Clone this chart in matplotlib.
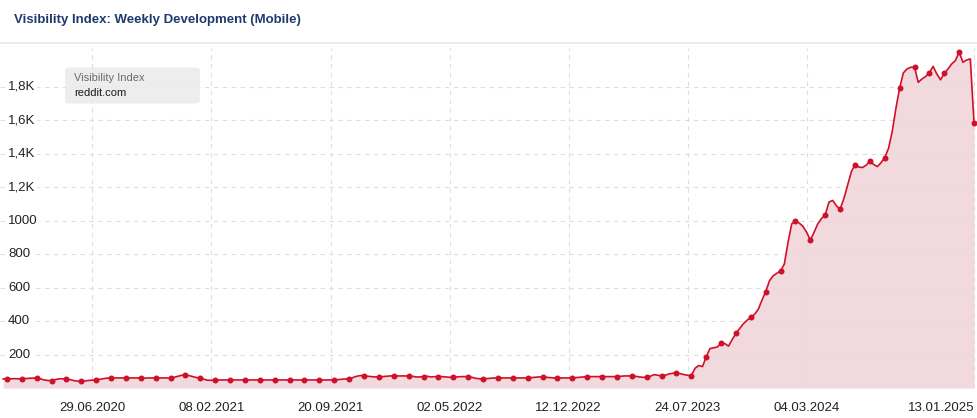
import numpy as np
import pandas as pd
import matplotlib
matplotlib.use("Agg")
import matplotlib.pyplot as plt
import matplotlib.dates as mdates
from matplotlib.patches import FancyBboxPatch

plt.rcParams['font.family'] = ['Liberation Sans', 'DejaVu Sans']

# weekly visibility index of reddit.com (mobile), first week 13.01.2020
first_week = "2020-01-13"
values = [
    54,
    54, 55, 56, 55,   54, 56, 58, 59,   60, 55, 48, 45,   44, 50, 55, 55,
    54, 50, 44, 41,   40, 42, 45, 47,   48, 52, 56, 59,   60, 60, 60, 60,
    60, 60, 60, 60,   60, 59, 60, 60,   60, 60, 60, 60,   60, 64, 70, 76,
    78, 74, 68, 62,   60, 52, 46, 46,   48, 48, 48, 48,   48, 48, 48, 48,
    48, 48, 48, 48,   48, 48, 48, 48,   48, 48, 48, 48,   48, 48, 48, 48,
    48, 48, 48, 48,   48, 48, 48, 48,   48, 50, 52, 54,   56, 62, 70, 74,
    74, 70, 68, 66,   66, 68, 70, 72,   72, 72, 72, 72,   72, 70, 66, 66,
    68, 70, 66, 68,   68, 68, 66, 64,   64, 66, 68, 68,   68, 64, 58, 55,
    54, 56, 58, 60,   60, 60, 60, 60,   60, 60, 60, 60,   60, 62, 64, 66,
    66, 64, 62, 60,   60, 60, 60, 60,   60, 62, 64, 66,   68, 68, 68, 68,
    68, 68, 68, 68,   68, 70, 72, 72,   72, 70, 66, 64,   64, 70, 80, 76,
    72, 76, 84, 88,   90, 86, 80, 76,   74, 118, 134, 128,
    186, 235, 240, 245,   268, 265, 250, 290,   326, 355, 384, 405,
    422, 440, 470, 525,   575, 640, 670, 685,   699, 740, 870, 980,
    996, 985, 965, 930,   883, 930, 980, 1012,   1034, 1110, 1120, 1088,
    1068, 1130, 1210, 1290,   1334, 1320, 1316, 1330,   1356, 1335, 1322, 1345,
    1376, 1430, 1530, 1670,   1791, 1881, 1905, 1915,   1917, 1825, 1845, 1860,
    1883, 1920, 1875, 1840,   1879, 1905, 1935, 1955,   2007, 1945, 1958, 1965,
    1581,
]
weeks = pd.date_range(first_week, periods=len(values), freq="7D")

date_ticks = ["29.06.2020", "08.02.2021", "20.09.2021", "02.05.2022",
              "12.12.2022", "24.07.2023", "04.03.2024", "13.01.2025"]
y_ticks = [200, 400, 600, 800, 1000, 1200, 1400, 1600, 1800]
y_labels = ["200", "400", "600", "800", "1000", "1,2K", "1,4K", "1,6K", "1,8K"]

red = "#d0102a"
W, H = 977, 418
fig = plt.figure(figsize=(W / 100, H / 100), dpi=100)
ax = fig.add_axes([0, 30 / H, 1, 340 / H])

ax.fill_between(weeks, values, 0, color="#f2d9dd", linewidth=0, zorder=1)
ax.plot(weeks, values, color=red, linewidth=1.2, zorder=3,
        marker="o", markersize=4.3, markevery=slice(1, None, 4),
        markeredgewidth=0)

tick_dates = pd.to_datetime(date_ticks, format="%d.%m.%Y")
ax.set_xlim(pd.Timestamp("2020-01-07"), pd.Timestamp("2025-01-18 14:00"))
ax.set_ylim(0, 2030)
ax.set_xticks(tick_dates)
ax.set_xticklabels(date_ticks, fontsize=9.5, color="#222222")
ax.tick_params(axis="x", length=0, pad=10)
ax.get_xticklabels()[-1].set_horizontalalignment("right")
ax.set_yticks(y_ticks)
ax.tick_params(axis="y", length=0, labelleft=False)

# сетка
ax.set_axisbelow("line")
ax.grid(True, color="#dedede", linewidth=0.8, linestyle=(0, (4, 4)))
for s in ax.spines.values():
    s.set_visible(False)

# подписи оси y внутри графика
for v, lab in zip(y_ticks, y_labels):
    ax.text(8 / W, v, lab, transform=ax.get_yaxis_transform(), ha="left",
            va="center", fontsize=9.5, color="#222222", zorder=4,
            bbox=dict(boxstyle="square,pad=0.15", fc="white", ec="none"))

# заголовок и разделитель
fig.text(14 / W, 1 - 20 / H, "Visibility Index: Weekly Development (Mobile)",
         fontsize=9.5, fontweight="bold", color="#1e3a6e", va="center")
fig.add_artist(plt.Line2D([0, 1], [1 - 42.5 / H] * 2, color="#e8e8e8",
                          linewidth=1.2, transform=fig.transFigure))

# легенда
box = FancyBboxPatch((65 / W, 1 - 103.5 / H), 135 / W, 36 / H,
                     boxstyle="round,pad=0,rounding_size=0.006",
                     transform=fig.transFigure, fc="#ececec", ec="none",
                     alpha=0.95, zorder=5)
fig.add_artist(box)
fig.text(74 / W, 1 - 78 / H, "Visibility Index", fontsize=8, color="#6b6b6b",
         va="center", zorder=6)
fig.text(74 / W, 1 - 93 / H, "reddit.com", fontsize=8, color="#1a1a1a",
         va="center", zorder=6)

fig.savefig("out.png", dpi=100)
